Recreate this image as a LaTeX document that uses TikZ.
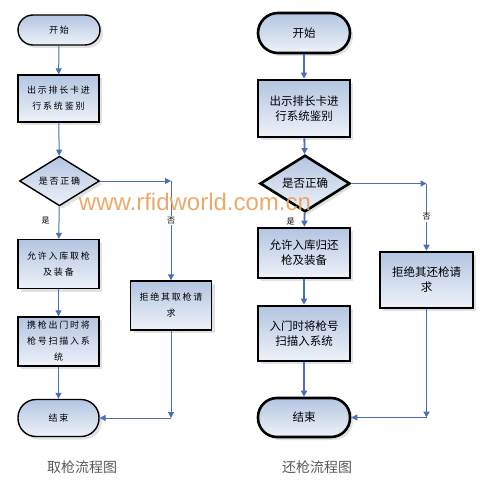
\documentclass[tikz,border=0pt]{standalone}
\usepackage{fontspec}
\setmainfont{Noto Sans CJK SC}
\newfontfamily\cjkl[LetterSpace=20]{Noto Sans CJK SC}
\newfontfamily\wmfont{Liberation Sans}
\usepackage{xcolor}
\usetikzlibrary{arrows.meta,shapes.geometric,shadows}
\definecolor{lineblue}{HTML}{4A6FB8}
\definecolor{boxtop}{HTML}{B3C5E1}
\definecolor{boxbot}{HTML}{EEF2F9}
\definecolor{wmorange}{HTML}{E8A15A}

\begin{document}
\begin{tikzpicture}[x=1pt,y=-1pt,>={Triangle[length=6pt,width=6pt]},
  base/.style={draw=black,top color=boxtop,bottom color=boxbot,align=center,inner sep=0pt,
    drop shadow={shadow xshift=3pt,shadow yshift=-3pt,fill=gray!45}},
  lbox/.style={base,line width=1.4pt,font=\cjkl\fontsize{9}{16}\selectfont},
  rbox/.style={base,line width=2.6pt,font=\fontsize{11.5}{15}\selectfont},
  lchoice/.style={lbox,shape=diamond,minimum width=80pt,minimum height=45pt},
  rchoice/.style={rbox,shape=diamond,minimum width=90pt,minimum height=53pt},
  lflow/.style={draw=lineblue,line width=1pt,->},
  rflow/.style={draw=lineblue,line width=1.9pt,->},
  tag/.style={fill=white,inner sep=1pt,font=\fontsize{8}{9}\selectfont}]
\useasboundingbox(0,0)rectangle(479,481);

\node[lbox,minimum width=82pt,minimum height=30pt,rounded corners=15pt](lstart)at(59,30){开始};
\node[lbox,minimum width=81pt,minimum height=47pt](lid)at(58.5,98.5){出示排长卡进\\行系统鉴别};
\node[lchoice](lchk)at(59.5,181){是否正确};
\node[lbox,minimum width=81pt,minimum height=49pt](lok)at(58.5,264){允许入库取枪\\及装备};
\node[lbox,minimum width=81pt,minimum height=49pt](lscan)at(58.5,341.5){携枪出门时将\\枪号扫描入系\\统};
\node[lbox,minimum width=81pt,minimum height=49pt](lno)at(171,305.5){拒绝其取枪请\\求};
\node[lbox,minimum width=81pt,minimum height=37pt,rounded corners=18pt](lend)at(58.5,418){结束};

\draw[lflow](lstart)--(lid);
\draw[lflow](lid)--(lchk);
\draw[lflow](lchk)--node[tag,left=8pt,pos=.45]{是}(lok);
\draw[lflow](lok)--(lscan);
\draw[lflow](lscan)--(lend);
\coordinate(lc1)at(lno.north|-lchk.east);
\coordinate(lc2)at(lno.south|-lend.east);
\draw[lflow](lchk.east)--(lc1);
\draw[lflow](lc1)--node[tag,pos=.4]{否}(lno.north);
\draw[lflow](lno.south)--(lc2);
\draw[lflow](lc2)--(lend.east);

\node[rbox,minimum width=92pt,minimum height=40pt,rounded corners=20pt](rstart)at(304,33){开始};
\node[rbox,minimum width=92pt,minimum height=57pt](rid)at(304,108.5){出示排长卡进\\行系统鉴别};
\node[rchoice](rchk)at(305,183.5){是否正确};
\node[rbox,minimum width=92pt,minimum height=50pt](rok)at(304,253){允许入库归还\\枪及装备};
\node[rbox,minimum width=92pt,minimum height=55pt](rscan)at(304,333.5){入门时将枪号\\扫描入系统};
\node[rbox,minimum width=93pt,minimum height=56pt](rno)at(426.5,280){拒绝其还枪请\\求};
\node[rbox,minimum width=92pt,minimum height=39pt,rounded corners=19pt](rend)at(304,417.5){结束};

\draw[rflow](rstart)--(rid);
\draw[rflow](rid)--(rchk);
\draw[rflow](rchk)--node[tag,left=8pt,pos=.65]{是}(rok);
\draw[rflow](rok)--(rscan);
\draw[rflow](rscan)--(rend);
\coordinate(rc1)at(rno.north|-rchk.east);
\coordinate(rc2)at(rno.south|-rend.east);
\draw[rflow](rchk.east)--(rc1);
\draw[rflow](rc1)--node[tag]{否}(rno.north);
\draw[rflow](rno.south)--(rc2);
\draw[rflow](rc2)--(rend.east);

\node[text=gray!70!black,font=\fontsize{14}{16}\selectfont](lcap)at(82,467){取枪流程图};
\node[text=gray!70!black,font=\fontsize{14}{16}\selectfont](rcap)at(317,467){还枪流程图};
\node[text=wmorange,opacity=.9,inner sep=0pt,font=\wmfont\fontsize{24}{26}\selectfont](mark)at(195,202){www.rfidworld.com.cn};
\end{tikzpicture}
\end{document}
